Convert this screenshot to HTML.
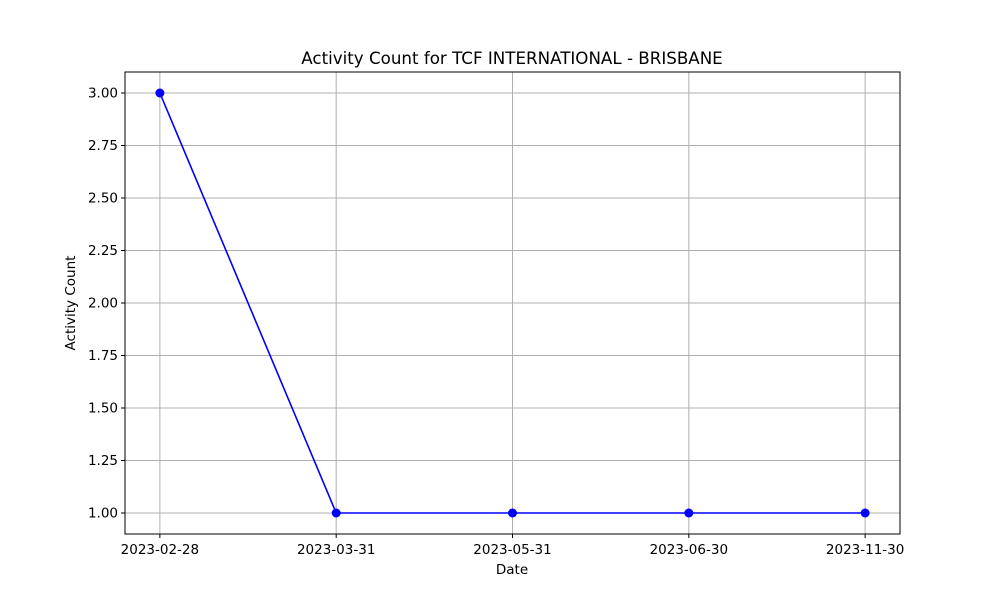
<!DOCTYPE html>
<html><head><meta charset="utf-8">
<style>
html,body{margin:0;padding:0;background:#fff;}
svg text{font-family:"DejaVu Sans","Liberation Sans",sans-serif;fill:#000;}
</style></head>
<body>
<svg id="chart" width="1000" height="600" viewBox="0 0 1000 600" xmlns="http://www.w3.org/2000/svg">
<rect width="1000" height="600" fill="#fff"/>
<text x="512" y="64" font-size="16.7" text-anchor="middle">Activity Count for TCF INTERNATIONAL - BRISBANE</text>
<text x="512" y="574" font-size="13.5" text-anchor="middle">Date</text>
<text x="75" y="303" font-size="13.5" text-anchor="middle" transform="rotate(-90 75 303)">Activity Count</text>
<g id="grid"></g>
<g id="ticks"></g>
<g id="series"></g>
<rect x="125" y="72" width="775" height="462" fill="none" stroke="#000" stroke-width="1"/>
</svg>
<script>
const categories = ["2023-02-28","2023-03-31","2023-05-31","2023-06-30","2023-11-30"];
const values = [3, 1, 1, 1, 1];
const yTicks = [1.00, 1.25, 1.50, 1.75, 2.00, 2.25, 2.50, 2.75, 3.00];

const L=125, R=900, T=72, B=534;
const yMin=0.9, yMax=3.1;
function xScale(i){ const pad=(R-L)*0.045; return L+pad+i*((R-L-2*pad)/(categories.length-1)); }
function yScale(v){ return B-(v-yMin)/(yMax-yMin)*(B-T); }
const NS="http://www.w3.org/2000/svg";
function mk(tag,attrs,parent){const e=document.createElementNS(NS,tag);for(const k in attrs)e.setAttribute(k,attrs[k]);parent.appendChild(e);return e;}
const grid=document.getElementById('grid'), ticks=document.getElementById('ticks'), series=document.getElementById('series');

categories.forEach((c,i)=>{
  const x=xScale(i);
  const g=mk('line',{x1:x,x2:x,y1:T,y2:B,stroke:'#b0b0b0','stroke-width':1},grid);
  
  
  const t=mk('line',{x1:x,x2:x,y1:B,y2:B+4,stroke:'#000'},ticks);
  
  
  const lb=mk('text',{x:x,y:B+20,'font-size':13.5,'text-anchor':'middle'},ticks);
  lb.textContent=c;
  
  
});
yTicks.forEach(v=>{
  const y=yScale(v);
  const g=mk('line',{x1:L,x2:R,y1:y,y2:y,stroke:'#b0b0b0','stroke-width':1},grid);
  
  
  const t=mk('line',{x1:L-4,x2:L,y1:y,y2:y,stroke:'#000'},ticks);
  
  
  const lb=mk('text',{x:L-7,y:y+4.5,'font-size':13.5,'text-anchor':'end'},ticks);
  lb.textContent=v.toFixed(2);
  
  
});
const pts=values.map((v,i)=>xScale(i)+','+yScale(v)).join(' ');
const line=mk('polyline',{points:pts,fill:'none',stroke:'#0000ff','stroke-width':1.6},series);


values.forEach((v,i)=>{
  const c=mk('circle',{cx:xScale(i),cy:yScale(v),r:4.5,fill:'#0000ff'},series);
  
  
});
</script>
</body></html>
